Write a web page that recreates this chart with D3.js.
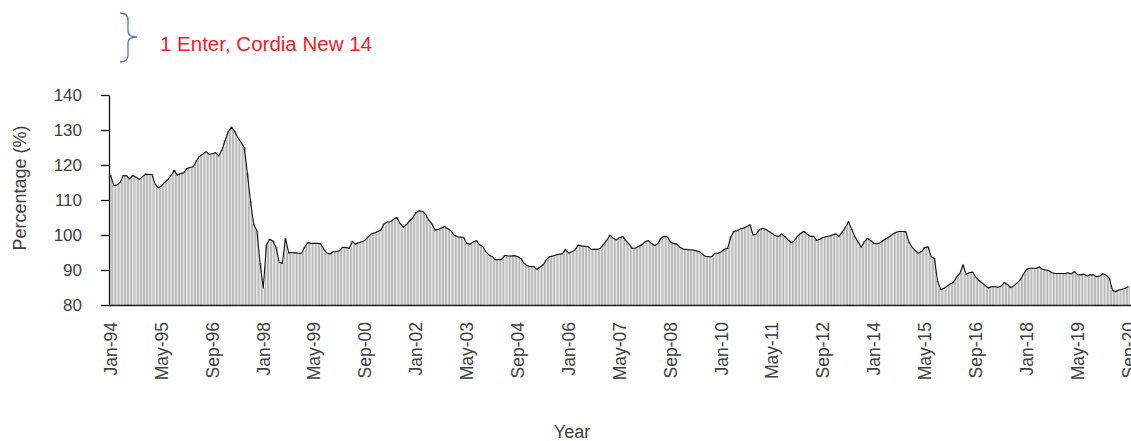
<!DOCTYPE html>
<html>
<head>
<meta charset="utf-8">
<script src="https://cdn.jsdelivr.net/npm/d3@7"></script>
<style>
  body { margin: 0; background: #fff; }
  text { font-family: "Liberation Sans", Arial, sans-serif; }
</style>
</head>
<body>
<script>
var width = 1131;
var height = 441;

// monthly values, Jan-94 .. Sep-20
var values = [
  117, 114.2, 114.3, 115, 117, 116.9, 116, 117, 116.5, 115.9, 116.6, 117.4,
  117.3, 117.3, 114.5, 113.5, 114, 115, 115.8, 117, 118.4, 117.1, 117.5, 117.8,
  119, 119.3, 119.5, 121.2, 122.5, 123.1, 123.8, 123, 123.2, 123.5, 122.6, 124.3,
  127, 129.5, 130.8, 129.6, 127.8, 126.5, 125, 117.6, 109.5, 103, 101.2, 91.9,
  84.8, 97.1, 98.8, 98.3, 96.5, 92.2, 91.9, 99, 94.9, 95, 94.9, 94.8,
  94.8, 96.5, 97.8, 97.6, 97.6, 97.6, 97.5, 96, 94.8, 94.6, 95.2, 95.3,
  95.5, 96.5, 96.4, 96.2, 98.1, 97.4, 97.8, 98.1, 98.5, 99.5, 100.3, 100.6,
  101, 101.4, 103.2, 103.7, 103.8, 104.5, 105, 103.3, 102.2, 103, 104, 104.9,
  106.4, 106.9, 106.8, 105.9, 104.3, 103.2, 101.4, 101.6, 102, 102.4, 101.8, 101.2,
  100, 99.5, 99.4, 99.3, 97.6, 97.4, 98, 98.4, 97.2, 96.7, 95.2, 94.3,
  93.8, 92.9, 93, 93.1, 94.2, 94, 94, 94.1, 93.8, 93.3, 91.9, 91.2,
  91, 91, 90.2, 90.8, 91.5, 92.9, 93.8, 94, 94.3, 94.5, 94.6, 95.9,
  94.8, 95.2, 95.7, 97.1, 96.9, 96.8, 96.7, 96, 95.9, 95.9, 96.2, 97.3,
  98.5, 99.9, 99.1, 98.6, 99.2, 99.6, 98.4, 97.4, 96.2, 96.3, 96.7, 97.2,
  98, 98.4, 97.6, 97, 97.5, 99, 99.6, 99.5, 98, 97.6, 97.4, 96.5,
  96, 95.9, 95.8, 95.7, 95.5, 95.3, 94.6, 93.9, 93.8, 93.8, 94.8, 94.8,
  95.2, 95.9, 96.2, 99.5, 101, 101.3, 101.7, 102, 102.4, 102.9, 100, 100.3,
  101.5, 101.9, 101.6, 101, 100.4, 99.8, 99.6, 100.3, 99.5, 98.6, 97.8, 98.4,
  99.7, 100.5, 101, 100.2, 99.6, 99.6, 98.5, 98.8, 99.3, 99.5, 99.7, 100,
  100.3, 99.6, 100.8, 102.2, 103.8, 101.6, 99.5, 98, 96.5, 98.1, 99, 98.4,
  97.6, 97.5, 97.8, 98.5, 99, 99.6, 100.3, 100.8, 101, 101, 100.9, 98,
  96.5, 95.5, 94.8, 95.3, 96.4, 96.6, 93.8, 93.3, 86.8, 84.4, 84.8, 85.4,
  86, 86.5, 88, 89, 91.4, 88.8, 89.2, 89.4, 88, 87, 86.3, 85.5,
  84.9, 85.2, 85.2, 85.1, 85.4, 86.4, 85.8, 85, 85.5, 86.3, 87.2, 88.8,
  90.2, 90.5, 90.5, 90.5, 90.8, 90.2, 90, 89.8, 89.2, 89, 89, 89,
  89, 89.2, 88.9, 89.5, 88.7, 88.6, 88.8, 88.3, 88.6, 88.6, 88.1, 88.3,
  88.9, 88.5, 87.6, 84.2, 83.8, 84.3, 84.5, 84.8, 85.2
];

var monthNames = ['Jan','Feb','Mar','Apr','May','Jun','Jul','Aug','Sep','Oct','Nov','Dec'];
var months = values.map(function(v, i) {
  var yr = (94 + Math.floor(i / 12)) % 100;
  return monthNames[i % 12] + '-' + (yr < 10 ? '0' + yr : yr);
});

var yTicks = [80, 90, 100, 110, 120, 130, 140];
var labelEvery = 16;

var svg = d3.select('body')
  .append('svg')
  .attr('width', width)
  .attr('height', height);

var x = d3.scaleBand()
  .domain(months)
  .range([109, 1130])
  .padding(0);

var y = d3.scaleLinear()
  .domain([80, 140])
  .range([305, 95]);

// columns
svg.append('g')
  .selectAll('rect')
  .data(values)
  .enter()
  .append('rect')
  .attr('x', function(d, i) { return x(months[i]) + 0.4; })
  .attr('width', x.bandwidth() - 0.8)
  .attr('y', function(d) { return y(d); })
  .attr('height', function(d) { return y(80) - y(d); })
  .attr('fill', '#e6e6e6')
  .attr('stroke', '#9e9e9e')
  .attr('stroke-width', 0.65);

// line on top
var line = d3.line()
  .x(function(d, i) { return x(months[i]) + x.bandwidth() / 2; })
  .y(function(d) { return y(d); });

svg.append('path')
  .datum(values)
  .attr('d', line)
  .attr('fill', 'none')
  .attr('stroke', '#111')
  .attr('stroke-width', 1.1);

// x axis
var xAxis = svg.append('g')
  .attr('transform', 'translate(0,305)')
  .call(d3.axisBottom(x)
    .tickValues(months.filter(function(d, i) { return i % labelEvery === 0; }))
    .tickSize(0)
    .tickSizeOuter(0));

xAxis.select('.domain')
  .attr('d', 'M109,0.5H1131')
  .attr('stroke', '#222')
  .attr('stroke-width', 1.5);

xAxis.selectAll('text')
  .attr('transform', 'rotate(-90)')
  .attr('x', -17)
  .attr('y', 0)
  .attr('dy', '0.36em')
  .style('text-anchor', 'end')
  .style('font-size', '17.5px')
  .attr('fill', '#404040');

// y axis
var yAxis = svg.append('g')
  .attr('transform', 'translate(109,0)')
  .call(d3.axisLeft(y)
    .tickValues(yTicks)
    .tickSize(8)
    .tickSizeOuter(0));

yAxis.select('.domain').attr('stroke', '#111').attr('stroke-width', 1.3);
yAxis.selectAll('.tick line').attr('stroke', '#111').attr('stroke-width', 1.3);
yAxis.selectAll('text')
  .attr('x', -27)
  .style('font-size', '17px')
  .attr('fill', '#404040');

// axis titles
svg.append('text')
  .attr('transform', 'translate(26,188) rotate(-90)')
  .attr('text-anchor', 'middle')
  .style('font-size', '18px')
  .attr('fill', '#404040')
  .text('Percentage (%)');

svg.append('text')
  .attr('x', 572)
  .attr('y', 438)
  .attr('text-anchor', 'middle')
  .style('font-size', '18px')
  .attr('fill', '#404040')
  .text('Year');

// note at the top
svg.append('path')
  .attr('d', 'M120,13 Q128,13 128,20 L128,31 Q128,37 137,37 Q128,37 128,43 L128,55 Q128,62 120,62')
  .attr('fill', 'none')
  .attr('stroke', '#4a76c6')
  .attr('stroke-width', 1.3);

svg.append('text')
  .attr('x', 160)
  .attr('y', 51)
  .style('font-size', '20.5px')
  .attr('fill', '#f0202a')
  .text('1 Enter, Cordia New 14');
</script>
</body>
</html>
